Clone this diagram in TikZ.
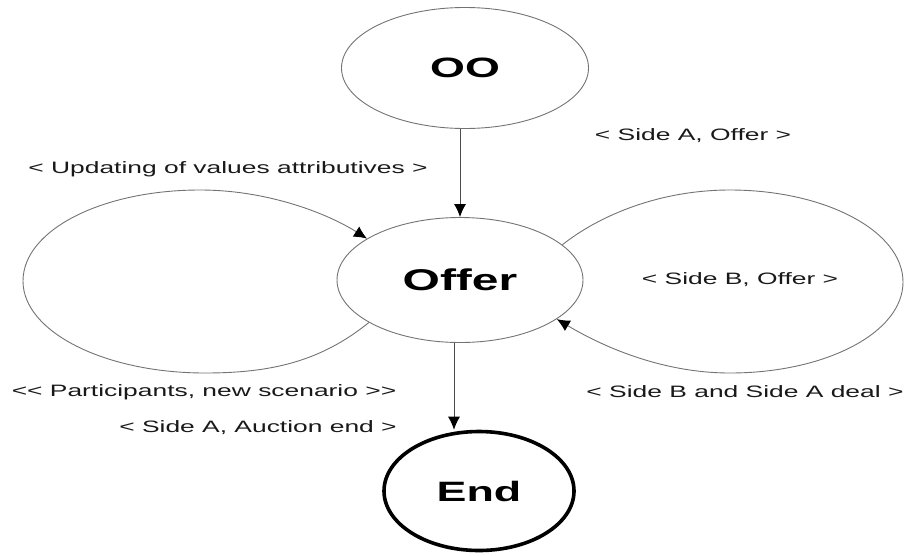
\documentclass[tikz,border=0pt]{standalone}
\usepackage{fontspec}
\newfontfamily\widesans[FakeStretch=1.6]{Liberation Sans}
\usetikzlibrary{shapes.geometric,arrows.meta}

\tikzset{
    state/.style={ellipse, draw=black!55, line width=0.9pt, inner sep=0pt,
        font=\widesans\fontsize{28}{32}\selectfont\bfseries},
    endstate/.style={state, draw=black, line width=3.6pt},
    tag/.style={font=\widesans\fontsize{16.5}{19}\selectfont, text=black!90},
    trans/.style={draw=black!70, line width=0.9pt, -{Latex[length=13pt,width=12pt,color=black]}},
    selftrans/.style={draw=black!55, line width=0.9pt, -{Latex[length=13pt,width=12pt,color=black]}}
}

\begin{document}
\begin{tikzpicture}[x=1pt,y=-1pt]
        \useasboundingbox (0,0) rectangle (904,555);

        \node[state, minimum width=247pt, minimum height=121pt] (oo) at (465,68) {OO};
        \node[state, minimum width=246pt, minimum height=125pt,
            font=\widesans\fontsize{30}{34}\selectfont\bfseries] (offer) at (460,280) {Offer};
        \node[endstate, minimum width=190pt, minimum height=119pt] (end) at (479,491) {End};

        % straight transitions
        \draw[trans] (oo.south -| offer.north) -- (offer.north);
        \draw[trans] ([xshift=-6pt]offer.south) -- ([xshift=-6pt]offer.south |- end.north);

        % loop on the left
        \draw[selftrans] (offer.205) .. controls (320,362) and (270,373) .. (205,373)
            .. controls (105,373) and (23,332) .. (23,281)
            .. controls (23,230) and (102,190) .. (200,190)
            .. controls (270,190) and (330,215) .. (offer.156);

        % loop on the right
        \draw[selftrans] (offer.19) .. controls (600,215) and (660,190) .. (730,190)
            .. controls (825,190) and (903,231) .. (903,282)
            .. controls (903,333) and (825,373) .. (730,373)
            .. controls (660,373) and (600,345) .. (offer.-22);

        \node[tag] (tsideaoffer) at (693,136) {< Side A, Offer >};
        \node[tag] (tupdating) at (228,169) {< Updating of values attributives >};
        \node[tag] (tsideboffer) at (740,280) {< Side B, Offer >};
        \node[tag] (tparticipants) at (204,392) {<< Participants, new scenario >>};
        \node[tag] (tauctionend) at (258,428) {< Side A, Auction end >};
        \node[tag] (tdeal) at (745,392) {< Side B and Side A deal >};

    \end{tikzpicture}
\end{document}
